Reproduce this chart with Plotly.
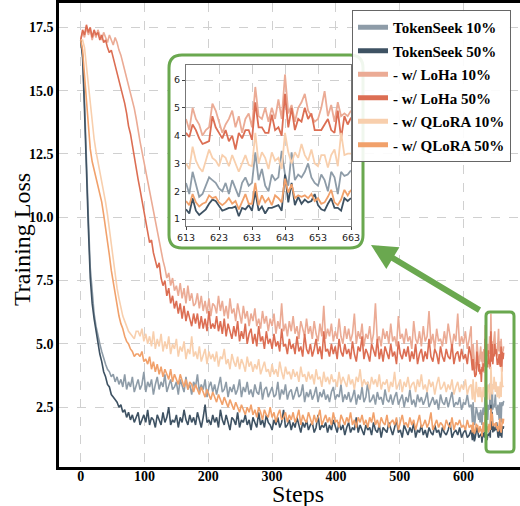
import plotly.graph_objects as go

# ---------------- data ----------------
steps_main = list(range(0, 613, 3))
steps_tail = list(range(613, 664))

tokenseek10_main = [
    17.0, 16.4, 14.6, 12.0, 10.0, 8.0, 6.9, 6.2, 5.7, 5.3,
    5.0, 4.7, 4.4, 4.2, 4.0, 3.9, 3.7, 3.8, 3.5, 3.7,
    3.4, 3.6, 3.3, 3.8, 3.2, 3.5, 3.3, 3.7, 3.1, 3.4,
    3.6, 3.2, 3.4, 3.9, 3.1, 3.5, 3.3, 3.6, 3.0, 3.4,
    3.7, 3.2, 3.5, 3.3, 3.8, 3.1, 3.4, 3.6, 3.2, 3.3,
    3.5, 3.0, 3.6, 3.3, 3.1, 3.7, 3.2, 3.4, 3.0, 3.5,
    3.3, 3.8, 3.1, 3.4, 3.2, 3.6, 2.9, 3.3, 3.5, 3.1,
    3.4, 3.0, 3.3, 3.7, 3.1, 3.2, 3.5, 2.9, 3.3, 3.1,
    3.4, 3.0, 3.2, 3.6, 2.9, 3.3, 3.1, 3.5, 3.0, 3.2,
    2.9, 3.4, 3.1, 3.0, 3.5, 2.8, 3.2, 3.3, 2.9, 3.1,
    3.3, 2.9, 3.0, 3.5, 2.8, 3.2, 3.0, 3.4, 2.8, 3.1,
    3.2, 2.8, 3.1, 3.3, 2.9, 3.0, 3.4, 2.7, 3.1, 2.9,
    3.2, 2.8, 3.0, 3.3, 2.7, 3.1, 2.9, 3.2, 2.8, 3.0,
    2.7, 3.1, 3.3, 2.8, 3.0, 2.9, 3.4, 2.7, 3.0, 2.8,
    3.1, 2.7, 2.9, 3.2, 2.6, 3.0, 2.8, 3.3, 2.7, 2.9,
    3.5, 2.7, 2.8, 3.0, 2.6, 3.1, 2.8, 2.9, 2.6, 3.2,
    2.8, 2.7, 3.0, 2.6, 2.9, 3.1, 2.6, 2.8, 3.0, 2.5,
    2.9, 2.7, 3.2, 2.6, 2.8, 2.5, 3.0, 2.7, 2.9, 2.6,
    2.8, 3.1, 2.5, 2.7, 2.9, 2.6, 2.8, 2.4, 3.0, 2.7,
    2.6, 2.9, 2.5, 2.8, 3.1, 2.5, 2.7, 2.6, 2.9, 2.4,
    2.7, 2.6, 3.0, 2.5, 2.6,
]
tokenseek50_main = [
    17.0, 16.3, 14.2, 11.5, 9.6, 7.6, 6.6, 6.0, 5.5, 5.1,
    4.6, 4.3, 3.9, 3.7, 3.4, 3.3, 3.0, 2.9, 2.8, 2.7,
    2.5, 2.6, 2.3, 2.4, 2.1, 2.3, 2.0, 2.2, 1.9, 2.1,
    2.3, 1.8, 2.0, 2.2, 1.9, 2.4, 1.8, 2.1, 2.0, 1.7,
    2.2, 2.0, 1.8, 2.3, 1.9, 2.1, 2.5, 1.8, 2.0, 1.9,
    2.2, 1.7, 2.1, 1.9, 2.4, 2.0, 1.8, 2.2, 1.9, 2.1,
    1.8, 2.3, 2.0, 1.7, 2.1, 2.6, 1.9, 2.0, 1.8, 2.2,
    1.9, 2.1, 1.7, 2.4, 2.0, 1.8, 2.2, 1.9, 1.6, 2.1,
    2.0, 1.8, 2.3, 1.7, 2.0, 1.9, 2.2, 1.8, 2.0, 1.6,
    2.1, 1.9, 1.7, 2.3, 1.8, 2.0, 1.7, 2.2, 1.9, 1.8,
    1.6, 2.0, 1.8, 2.1, 1.7, 1.9, 2.4, 1.7, 1.8, 2.0,
    1.6, 1.9, 1.7, 2.1, 1.8, 1.5, 1.9, 1.7, 2.0, 1.6,
    1.8, 1.9, 1.5, 1.7, 2.2, 1.6, 1.8, 1.7, 1.9, 1.5,
    1.8, 1.6, 2.0, 1.7, 1.5, 1.9, 1.6, 1.8, 1.4, 1.7,
    1.9, 1.5, 1.7, 1.6, 2.1, 1.5, 1.8, 1.6, 1.4, 1.8,
    1.6, 1.7, 1.4, 1.9, 1.6, 1.5, 1.8, 1.3, 1.7, 1.6,
    1.5, 1.9, 1.6, 1.4, 1.7, 2.0, 1.5, 1.6, 1.3, 1.8,
    1.6, 1.4, 1.7, 1.5, 1.9, 1.3, 1.6, 1.5, 1.8, 1.4,
    1.6, 1.3, 1.7, 1.5, 1.4, 1.8, 1.5, 1.6, 1.3, 1.7,
    1.5, 1.4, 1.6, 1.9, 1.3, 1.5, 1.6, 1.4, 1.7, 1.3,
    1.5, 1.6, 1.3, 1.4, 1.6,
]
loha10_main = [
    17.0, 17.3, 17.1, 17.5, 17.2, 17.4, 17.0, 17.3, 17.1, 17.4,
    17.2, 17.0, 17.3, 17.1, 16.9, 17.2, 17.0, 16.8, 17.1, 16.9,
    16.6, 16.4, 16.1, 15.8, 15.6, 15.2, 14.9, 14.6, 14.3, 13.9,
    13.4, 13.0, 12.6, 12.2, 11.8, 11.4, 11.0, 10.6, 10.2, 9.8,
    9.5, 9.1, 8.7, 8.3, 8.0, 7.6, 7.8, 7.3, 7.6, 7.1,
    7.3, 6.9, 7.4, 6.8, 7.2, 6.6, 7.3, 6.7, 7.0, 6.5,
    6.6, 7.0, 6.4, 6.9, 6.3, 6.7, 6.2, 6.8, 6.1, 6.6,
    6.5, 6.2, 6.9, 6.3, 6.7, 6.1, 6.5, 6.0, 6.8, 6.2,
    6.4, 5.9, 6.6, 6.1, 5.8, 6.5, 6.0, 6.3, 5.7, 6.2,
    5.9, 6.4, 5.7, 6.0, 5.6, 6.3, 5.8, 6.1, 5.5, 6.0,
    5.7, 6.2, 5.4, 5.9, 5.6, 6.6, 5.5, 5.8, 5.3, 5.9,
    5.5, 6.1, 5.4, 5.7, 5.2, 5.9, 5.6, 5.3, 6.0, 5.4,
    5.7, 5.2, 5.9, 5.4, 5.1, 5.8, 5.3, 6.5, 5.2, 5.6,
    5.3, 5.8, 5.1, 5.5, 5.2, 6.0, 5.3, 5.0, 5.7, 5.2,
    5.6, 5.1, 5.4, 6.2, 5.0, 5.5, 5.2, 5.8, 4.9, 5.4,
    5.2, 5.7, 5.0, 5.4, 6.6, 5.1, 5.3, 4.9, 5.6, 5.2,
    5.5, 5.0, 5.8, 5.1, 5.3, 4.9, 6.1, 5.2, 5.4, 5.0,
    5.6, 5.1, 5.3, 4.8, 5.9, 5.2, 5.0, 5.5, 4.9, 5.7,
    5.1, 5.3, 6.3, 5.0, 5.4, 4.8, 5.6, 5.1, 5.2, 4.9,
    5.5, 5.0, 5.8, 5.2, 4.8, 5.4, 5.1, 6.2, 4.9, 5.3,
    5.0, 5.5, 4.8, 5.2, 5.7,
]
loha50_main = [
    17.0, 17.4, 17.2, 17.6, 17.3, 17.5, 17.1, 17.4, 17.2, 17.3,
    17.0, 17.2, 16.9, 17.0, 16.7, 16.5, 16.6, 16.3, 16.0, 15.8,
    15.5, 15.2, 14.8, 14.5, 14.1, 13.6, 13.3, 12.8, 12.5, 12.0,
    11.5, 11.1, 10.7, 10.2, 9.8, 9.4, 9.0, 9.1, 8.6, 8.3,
    8.0, 8.2, 7.6, 7.3, 7.5, 6.9, 7.2, 6.6, 6.9, 6.4,
    6.7, 6.2, 6.6, 6.0, 6.5, 5.9, 6.3, 6.0, 5.7, 6.2,
    5.8, 6.2, 5.6, 6.1, 5.6, 6.0, 5.5, 6.3, 5.6, 5.8,
    5.6, 6.1, 5.5, 5.9, 5.4, 6.0, 5.3, 5.8, 5.5, 5.2,
    5.7, 5.3, 5.9, 5.1, 5.5, 5.2, 5.8, 5.0, 5.4, 5.6,
    5.0, 5.4, 4.9, 5.7, 5.1, 5.3, 4.8, 5.5, 5.0, 5.2,
    4.8, 5.4, 4.9, 5.1, 4.7, 5.6, 4.9, 5.0, 4.6, 5.2,
    4.8, 5.0, 4.6, 5.3, 4.7, 4.9, 4.5, 5.4, 4.8, 4.6,
    5.0, 4.5, 4.8, 5.2, 4.6, 4.9, 4.4, 5.5, 4.7, 4.8,
    4.5, 5.0, 4.6, 4.9, 4.4, 5.2, 4.7, 4.5, 5.0, 4.6,
    4.8, 4.4, 5.1, 4.6, 4.3, 4.9, 4.7, 5.3, 4.4, 4.8,
    4.6, 4.3, 5.0, 4.7, 4.5, 5.2, 4.4, 4.8, 4.3, 4.9,
    4.6, 4.4, 5.0, 4.5, 4.7, 4.2, 5.1, 4.6, 4.4, 4.8,
    4.5, 4.9, 4.3, 4.7, 4.4, 5.0, 4.2, 4.6, 4.8, 4.3,
    4.7, 4.4, 5.2, 4.5, 4.3, 4.8, 4.6, 4.2, 4.9, 4.5,
    4.3, 4.8, 4.5, 4.4, 5.0, 4.2, 4.6, 4.7, 4.3, 4.8,
    4.4, 4.6, 4.2, 4.9, 4.5,
]
qlora10_main = [
    17.0, 17.0, 16.7, 16.0, 15.2, 14.4, 13.7, 13.1, 12.6, 12.2,
    11.9, 11.5, 11.1, 10.6, 10.1, 9.5, 8.9, 8.3, 7.7, 7.2,
    6.8, 6.4, 6.1, 5.9, 5.7, 5.5, 5.4, 5.3, 5.2, 5.5,
    5.5, 5.3, 5.6, 5.1, 5.4, 5.0, 5.3, 4.9, 5.5, 4.8,
    5.2, 4.9, 5.4, 4.7, 5.1, 4.8, 5.3, 4.6, 5.0, 4.8,
    5.2, 4.5, 4.9, 4.7, 5.1, 4.4, 4.8, 4.6, 5.3, 4.5,
    4.7, 4.4, 4.9, 4.3, 4.6, 4.8, 4.2, 4.7, 4.4, 4.6,
    4.3, 4.7, 4.1, 4.5, 4.4, 4.8, 4.2, 4.4, 4.0, 4.6,
    4.3, 4.1, 4.5, 4.0, 4.4, 4.2, 3.9, 4.5, 4.1, 4.3,
    3.9, 4.2, 4.0, 4.4, 3.8, 4.1, 4.3, 3.9, 4.0, 3.7,
    4.2, 3.8, 4.0, 3.7, 4.3, 3.9, 3.6, 4.1, 3.8, 3.9,
    3.6, 4.0, 3.7, 3.9, 3.5, 4.1, 3.7, 3.8, 3.5, 3.9,
    3.6, 3.8, 3.4, 4.0, 3.6, 3.7, 3.3, 3.9, 3.5, 3.7,
    3.4, 3.8, 3.5, 3.6, 3.3, 3.9, 3.4, 3.7, 3.5, 3.3,
    3.8, 3.4, 3.6, 3.2, 3.7, 3.5, 4.0, 3.3, 3.6, 3.4,
    3.5, 3.2, 3.7, 3.4, 3.6, 3.3, 3.8, 3.2, 3.5, 3.4,
    3.6, 3.1, 3.5, 3.3, 3.9, 3.2, 3.4, 3.6, 3.1, 3.5,
    3.3, 3.7, 3.2, 3.4, 3.5, 3.1, 3.6, 3.3, 3.8, 3.2,
    3.4, 3.1, 3.6, 3.3, 3.5, 3.0, 3.4, 3.7, 3.2, 3.3,
    3.5, 3.1, 3.4, 3.2, 3.6, 3.0, 3.3, 3.5, 3.1, 3.4,
    3.2, 3.6, 3.0, 3.3, 3.4,
]
qlora50_main = [
    17.0, 16.6, 15.6, 14.5, 13.5, 12.7, 12.2, 11.9, 11.6, 11.3,
    11.0, 10.6, 10.1, 9.6, 9.1, 8.5, 7.9, 7.4, 6.9, 6.5,
    6.1, 5.8, 5.6, 5.3, 5.1, 5.0, 4.8, 4.7, 4.5, 4.6,
    4.6, 4.5, 4.7, 4.3, 4.4, 4.2, 4.5, 4.0, 4.3, 3.9,
    4.2, 3.8, 4.1, 3.7, 4.0, 3.8, 3.6, 4.0, 3.5, 3.8,
    3.6, 3.4, 3.8, 3.5, 3.3, 3.6, 3.2, 3.5, 3.4, 3.1,
    3.4, 3.2, 3.0, 3.3, 3.1, 2.9, 3.2, 3.0, 2.8, 3.1,
    2.9, 2.7, 3.0, 2.8, 2.6, 2.9, 2.7, 2.5, 2.8, 2.6,
    2.4, 2.7, 2.5, 2.3, 2.6, 2.4, 2.2, 2.5, 2.3, 2.6,
    2.2, 2.4, 2.1, 2.5, 2.3, 2.0, 2.4, 2.2, 2.1, 2.5,
    2.1, 2.3, 1.9, 2.2, 2.4, 2.0, 2.1, 2.3, 1.9, 2.2,
    2.0, 2.3, 1.9, 2.1, 2.4, 1.8, 2.2, 2.0, 1.9, 2.3,
    2.0, 1.8, 2.2, 1.9, 2.1, 2.4, 1.8, 2.0, 2.2, 1.9,
    2.1, 1.8, 2.3, 1.9, 2.0, 1.7, 2.2, 2.0, 1.8, 2.1,
    1.9, 2.3, 1.8, 2.0, 1.7, 2.1, 1.9, 2.2, 1.8, 2.0,
    1.7, 2.1, 1.9, 2.3, 1.8, 2.0, 1.7, 2.1, 1.9, 1.8,
    2.2, 1.7, 1.9, 2.0, 1.8, 2.1, 1.6, 1.9, 2.2, 1.8,
    1.9, 1.7, 2.1, 1.8, 2.0, 1.6, 1.9, 2.2, 1.7, 1.8,
    2.0, 1.7, 1.9, 2.3, 1.6, 1.8, 2.0, 1.7, 1.9, 1.8,
    1.6, 2.0, 1.8, 1.7, 2.1, 1.6, 1.9, 1.8, 2.0, 1.7,
    1.8, 1.6, 2.0, 1.7, 1.8,
]

# steps 613..663 (zoomed window)
tokenseek10_tail = [
    2.3, 1.9, 2.7, 2.2, 1.8, 1.9, 2.2, 2.5, 2.4, 2.3,
    2.1, 2.0, 2.3, 1.9, 2.4, 2.1, 1.8, 2.3, 2.5, 2.2,
    2.3, 3.4, 2.4, 2.8, 2.2, 2.0, 2.6, 2.4, 2.5, 3.45,
    2.6, 2.2, 3.4, 2.4, 2.6, 2.5, 2.7, 3.0, 2.5, 2.3,
    2.2, 2.6, 2.4, 2.0, 2.7, 2.5, 1.9, 2.7, 2.55, 2.6,
    2.75,
]
tokenseek50_tail = [
    1.35, 1.2, 1.75, 1.3, 1.15, 1.25, 1.35, 1.55, 1.7, 1.65,
    1.45, 1.3, 1.35, 1.4, 1.4, 1.45, 1.1, 1.4, 1.35, 1.5,
    1.3, 2.0, 1.3, 1.45, 1.2, 1.4, 1.4, 1.45, 1.5, 1.3,
    2.6, 1.6, 2.3, 1.5, 1.8, 1.55, 1.7, 1.6, 1.65, 1.9,
    1.5, 1.35, 1.3, 1.55, 1.75, 1.4, 1.4, 1.3, 1.75, 1.65,
    1.75,
]
loha10_tail = [
    4.6, 4.2, 5.0, 4.6, 4.4, 4.0, 4.2, 4.3, 5.15, 4.9,
    4.5, 4.1, 4.4, 4.6, 4.9, 4.3, 4.7, 4.1, 4.6, 4.8,
    4.3, 5.75, 4.7, 4.6, 5.0, 4.5, 5.0, 4.6, 5.3, 4.6,
    6.2, 4.8, 5.1, 4.5, 5.0, 5.2, 5.5, 4.9, 4.7, 4.5,
    4.6, 5.0, 5.6, 4.7, 5.1, 4.5, 5.2, 4.7, 4.8, 4.7,
    4.9,
]
loha50_tail = [
    4.1, 3.95, 4.4, 4.2, 3.9, 3.7, 3.75, 3.8, 4.7, 4.3,
    4.1, 3.9, 4.2, 3.8, 4.0, 3.5, 4.1, 3.9, 4.2, 4.2,
    3.85, 5.2, 4.3, 4.3, 4.1, 4.1, 4.75, 4.2, 4.3, 4.0,
    5.5, 4.3, 5.0, 4.2, 4.6, 4.5, 5.0, 4.6, 4.8, 4.2,
    4.2, 4.2, 4.4, 4.6, 4.2, 4.1, 4.9, 3.9, 4.7, 4.4,
    4.65,
]
qlora10_tail = [
    3.0, 2.8, 3.6, 3.1, 2.85, 2.7, 3.1, 3.5, 3.2, 3.1,
    2.9, 3.3, 3.2, 2.9, 3.3, 3.0, 2.7, 3.0, 3.3, 2.95,
    2.9, 4.1, 3.0, 3.4, 3.2, 2.8, 3.4, 3.1, 3.2, 2.8,
    4.1, 3.4, 3.0, 3.4, 3.2, 3.7, 3.3, 3.1, 3.5, 3.0,
    2.9, 3.3, 3.3, 2.85, 3.3, 3.5, 2.9, 4.1, 3.3, 3.35,
    3.35,
]
qlora50_tail = [
    1.65, 1.5, 1.9, 1.6, 1.45, 1.55, 1.6, 1.85, 1.75, 1.8,
    1.6, 1.5, 1.6, 1.75, 1.55, 1.65, 1.35, 1.6, 1.9, 1.55,
    1.55, 2.3, 1.5, 1.85, 1.6, 1.75, 1.5, 1.85, 1.75, 1.6,
    2.45, 1.95, 2.25, 1.75, 1.85, 1.8, 1.85, 1.75, 1.9, 1.65,
    1.75, 1.55, 1.6, 1.8, 2.05, 1.6, 1.5, 1.7, 2.05, 1.85,
    2.05,
]

labels = ["TokenSeek 10%", "TokenSeek 50%", "- w/ LoHa 10%",
          "- w/ LoHa 50%", "- w/ QLoRA 10%", "- w/ QLoRA 50%"]
colors = ["#8e9ca8", "#3e5263", "#ebab95", "#dc6e53", "#f8cfad", "#f1a16b"]
mains = [tokenseek10_main, tokenseek50_main, loha10_main,
         loha50_main, qlora10_main, qlora50_main]
tails = [tokenseek10_tail, tokenseek50_tail, loha10_tail,
         loha50_tail, qlora10_tail, qlora50_tail]

# ---------------- layout geometry ----------------
W, H = 520, 506
ML, MR, MT, MB = 59, 0, 3, 39
XR = [-34, 688.6]
YR = [0.14, 18.46]
PW, PH = W - ML - MR, H - MT - MB
GREEN = "#6aa84f"
SERIF = "Liberation Serif"


def px_x(px):
    return XR[0] + (px - ML) / PW * (XR[1] - XR[0])


def px_y(py):
    return YR[1] - (py - MT) / PH * (YR[1] - YR[0])


def paper_x(px):
    return (px - ML) / PW


def paper_y(py):
    return (H - MB - py) / PH


def rounded(x0, y0, x1, y1, r):
    # pixel box -> path in main data coords
    X0, X1 = px_x(x0), px_x(x1)
    Y0, Y1 = px_y(y0), px_y(y1)
    rx = px_x(x0 + r) - X0
    ry = Y0 - px_y(y0 + r)
    return (f"M{X0+rx},{Y0} L{X1-rx},{Y0} Q{X1},{Y0} {X1},{Y0-ry} "
            f"L{X1},{Y1+ry} Q{X1},{Y1} {X1-rx},{Y1} L{X0+rx},{Y1} "
            f"Q{X0},{Y1} {X0},{Y1+ry} L{X0},{Y0-ry} Q{X0},{Y0} {X0+rx},{Y0} Z")


fig = go.Figure()

# main curves
for lab, col, m, t in zip(labels, colors, mains, tails):
    fig.add_trace(go.Scatter(
        x=steps_main + steps_tail, y=m + t, mode="lines",
        line=dict(color=col, width=1.6), showlegend=False,
        xaxis="x", yaxis="y", hoverinfo="skip"))

# inset curves
for lab, col, t in zip(labels, colors, tails):
    fig.add_trace(go.Scatter(
        x=steps_tail, y=t, mode="lines",
        line=dict(color=col, width=1.8), showlegend=False,
        xaxis="x2", yaxis="y2", hoverinfo="skip"))

# legend entries (thick handles)
for i, (lab, col) in enumerate(zip(labels, colors)):
    fig.add_trace(go.Scatter(
        x=[None], y=[None], mode="lines", name=lab,
        line=dict(color=col, width=5), legendgroup=f"g{i}",
        xaxis="x", yaxis="y"))

tickfont = dict(family=SERIF, size=14, color="black", weight="bold")

fig.update_layout(
    width=W, height=H,
    margin=dict(l=ML, r=MR, t=MT, b=MB, autoexpand=False),
    paper_bgcolor="white", plot_bgcolor="white",
    xaxis=dict(
        range=XR, domain=[0, 1], anchor="y", automargin=False,
        tickvals=[0, 100, 200, 300, 400, 500, 600],
        tickfont=tickfont, ticks="", showgrid=True,
        gridcolor="#d0d0d0", griddash="dash", gridwidth=1,
        showline=True, linecolor="black", linewidth=2.5, mirror=True,
        zeroline=False,
    ),
    yaxis=dict(
        range=YR, domain=[0, 1], anchor="x", automargin=False,
        tickvals=[2.5, 5.0, 7.5, 10.0, 12.5, 15.0, 17.5], tickformat=".1f",
        tickfont=tickfont, ticks="", showgrid=True,
        gridcolor="#d0d0d0", griddash="dash", gridwidth=1,
        showline=True, linecolor="black", linewidth=2.5, mirror=False,
        zeroline=False,
    ),
    xaxis2=dict(
        range=[613, 663], domain=[paper_x(186), paper_x(351)], anchor="y2",
        automargin=False,
        tickvals=[613, 623, 633, 643, 653, 663],
        tickfont=dict(family="DejaVu Sans", size=9.5, color="#222"),
        ticks="outside", ticklen=3, tickcolor="#444",
        showgrid=True, gridcolor="#cfcfcf", griddash="dash",
        showline=True, linecolor="#777", linewidth=1, mirror=True,
        zeroline=False,
    ),
    yaxis2=dict(
        range=[0.75, 6.54], domain=[paper_y(226), paper_y(65)], anchor="x2",
        automargin=False,
        tickvals=[1, 2, 3, 4, 5, 6],
        tickfont=dict(family="DejaVu Sans", size=9.5, color="#222"),
        ticks="outside", ticklen=3, tickcolor="#444",
        showgrid=True, gridcolor="#cfcfcf", griddash="dash",
        showline=True, linecolor="#777", linewidth=1, mirror=True,
        zeroline=False,
    ),
    legend=dict(
        x=paper_x(511), xanchor="right", y=paper_y(10), yanchor="top",
        bgcolor="rgba(255,255,255,0.9)", bordercolor="#666", borderwidth=1,
        font=dict(family=SERIF, size=15, color="black", weight="bold"),
        tracegroupgap=1,
    ),
    shapes=[
        # inset frame (white, above main grid, below inset)
        dict(type="path", xref="x", yref="y", layer="between",
             path=rounded(169, 55, 363, 248, 13),
             fillcolor="white", line=dict(color=GREEN, width=3)),
        # highlighted window
        dict(type="path", xref="x", yref="y", layer="above",
             path=rounded(486, 312, 514, 452, 4),
             fillcolor="rgba(0,0,0,0)", line=dict(color=GREEN, width=3)),
    ],
    annotations=[
        dict(x=px_x(371), y=px_y(245), xref="x", yref="y",
             ax=110, ay=66, axref="pixel", ayref="pixel",
             text="", showarrow=True, arrowhead=2, arrowsize=0.85,
             arrowwidth=6, arrowcolor=GREEN),
        dict(x=paper_x(298), y=paper_y(494), xref="paper", yref="paper",
             xanchor="center", yanchor="middle", showarrow=False,
             text="Steps", font=dict(family=SERIF, size=24, color="black")),
        dict(x=paper_x(22), y=paper_y(240), xref="paper", yref="paper",
             xanchor="center", yanchor="middle", showarrow=False,
             textangle=-90,
             text="Training Loss", font=dict(family=SERIF, size=24, color="black")),
    ],
)

try:
    fig.update_xaxes(ticklabelstandoff=-6, selector=dict(anchor="y"))
except Exception:
    pass

fig.write_html("out.html",
               config={"displayModeBar": False},
               post_script="document.body.style.margin='0';"
                           "document.body.style.overflow='hidden';")
